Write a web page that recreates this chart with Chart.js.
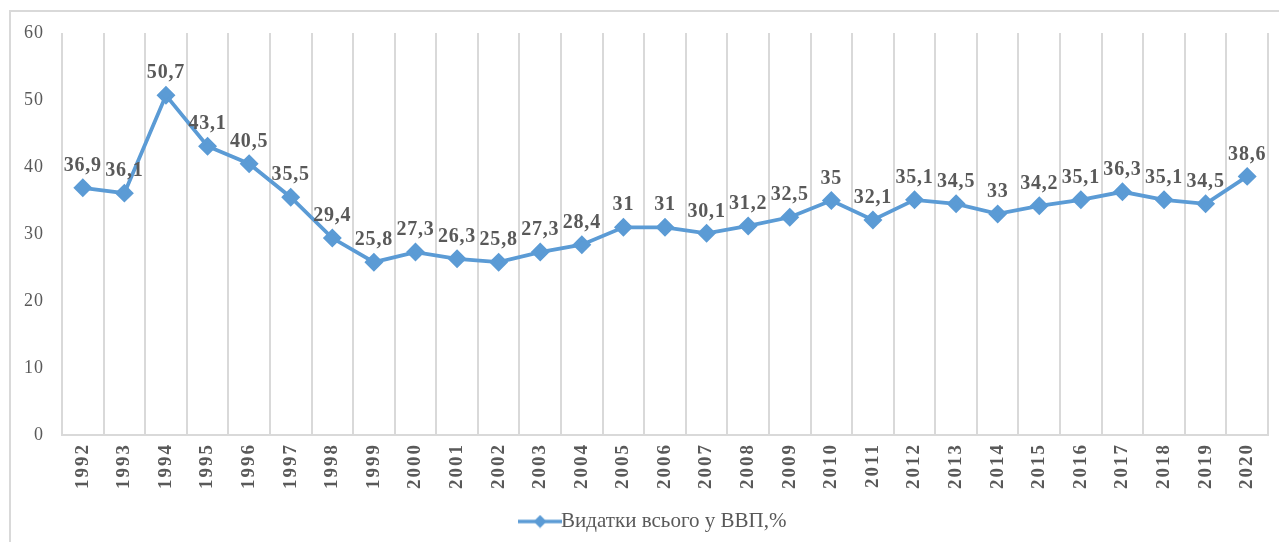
<!DOCTYPE html>
<html>
<head>
<meta charset="utf-8">
<script src="https://cdn.jsdelivr.net/npm/chart.js@4"></script>
<style>
    html, body { margin: 0; padding: 0; background: #fff; overflow: hidden; }
    #frame {
        position: absolute; left: 9px; top: 10px; width: 1300px; height: 560px;
        border-top: 2px solid #d9d9d9; border-left: 2px solid #d9d9d9;
    }
    #wrap { position: absolute; left: 0; top: 0; width: 1279px; height: 542px; }
</style>
</head>
<body>
<div id="frame"></div>
<div id="wrap"><canvas id="spendChart" width="1279" height="542"></canvas></div>
<script>
const years = ['1992', '1993', '1994', '1995', '1996', '1997', '1998', '1999', '2000', '2001',
    '2002', '2003', '2004', '2005', '2006', '2007', '2008', '2009', '2010', '2011',
    '2012', '2013', '2014', '2015', '2016', '2017', '2018', '2019', '2020'];
const spending = [36.9, 36.1, 50.7, 43.1, 40.5, 35.5, 29.4, 25.8, 27.3, 26.3,
    25.8, 27.3, 28.4, 31, 31, 30.1, 31.2, 32.5, 35, 32.1,
    35.1, 34.5, 33, 34.2, 35.1, 36.3, 35.1, 34.5, 38.6];
const yTicks = [0, 10, 20, 30, 40, 50, 60];
const seriesName = 'Видатки всього у ВВП,%';

const lineColor = '#5b9bd5';
const textColor = '#595959';
const gridColor = '#d9d9d9';

// legend marker: line with a diamond in the middle
function legendMarker() {
    const c = document.createElement('canvas');
    c.width = 44; c.height = 14;
    const g = c.getContext('2d');
    g.strokeStyle = lineColor;
    g.lineWidth = 3.5;
    g.beginPath(); g.moveTo(0, 7); g.lineTo(44, 7); g.stroke();
    g.fillStyle = lineColor;
    g.beginPath(); g.moveTo(22, 0.5); g.lineTo(28.5, 7); g.lineTo(22, 13.5); g.lineTo(15.5, 7); g.closePath(); g.fill();
    return c;
}

// spaced-out tick text like the original (Excel export)
const tickSpacing = {
    id: 'tickSpacing',
    afterLayout(chart) {
        const spacing = { x: '2px', y: '1px' };
        Object.keys(spacing).forEach(id => {
            const scale = chart.scales[id];
            if (scale._spacedPatch) return;
            const orig = scale.drawLabels;
            scale.drawLabels = function (area) {
                chart.ctx.letterSpacing = spacing[id];
                orig.call(this, area);
                chart.ctx.letterSpacing = '0px';
            };
            scale._spacedPatch = true;
        });
        // legend sits a bit right of the canvas centre in the original
        chart.legend.left += 24;
        chart.legend.right += 24;
    }
};

// value labels above points
const valueLabels = {
    id: 'valueLabels',
    afterDatasetsDraw(chart) {
        const ctx = chart.ctx;
        const meta = chart.getDatasetMeta(0);
        ctx.save();
        ctx.font = 'bold 20px "Liberation Serif"';
        ctx.letterSpacing = '0.8px';
        ctx.fillStyle = textColor;
        ctx.textAlign = 'center';
        ctx.textBaseline = 'middle';
        meta.data.forEach((pt, i) => {
            const txt = String(spending[i]).replace('.', ',');
            ctx.fillText(txt, pt.x, pt.y - 22);
        });
        ctx.letterSpacing = '0px';
        ctx.restore();
    }
};

const ctx = document.getElementById('spendChart').getContext('2d');
new Chart(ctx, {
    type: 'line',
    data: {
        labels: years,
        datasets: [{
            label: seriesName,
            data: spending,
            borderColor: lineColor,
            backgroundColor: lineColor,
            borderWidth: 3.8,
            pointStyle: 'rectRot',
            pointRadius: 6.8,
            pointBackgroundColor: lineColor,
            pointBorderColor: lineColor,
            tension: 0
        }]
    },
    options: {
        responsive: false,
        animation: false,
        devicePixelRatio: 1,
        layout: { padding: { left: 0, right: 11, top: 33, bottom: 0 } },
        scales: {
            x: {
                offset: true,
                afterFit: (scale) => { scale.height = 64; },
                grid: { offset: true, color: gridColor, lineWidth: 2, drawTicks: false },
                border: { color: gridColor, width: 2 },
                ticks: {
                    color: textColor,
                    font: { family: 'Liberation Serif', size: 19, weight: 'bold' },
                    minRotation: 90,
                    maxRotation: 90,
                    padding: 8,
                    autoSkip: false
                }
            },
            y: {
                min: 0,
                max: 60,
                afterBuildTicks: (scale) => { scale.ticks = yTicks.map(v => ({ value: v })); },
                afterFit: (scale) => { scale.width = 62; },
                grid: { display: false },
                border: { display: false },
                ticks: {
                    color: textColor,
                    font: { family: 'Liberation Serif', size: 18 },
                    padding: 10
                }
            }
        },
        plugins: {
            legend: {
                position: 'bottom',
                labels: {
                    color: textColor,
                    font: { family: 'Liberation Serif', size: 21 },
                    usePointStyle: true,
                    padding: 12,
                    generateLabels: () => [{
                        text: seriesName,
                        pointStyle: legendMarker(),
                        fillStyle: lineColor,
                        strokeStyle: lineColor,
                        fontColor: textColor,
                        datasetIndex: 0
                    }]
                }
            },
            tooltip: { enabled: false }
        }
    },
    plugins: [tickSpacing, valueLabels]
});
</script>
</body>
</html>
